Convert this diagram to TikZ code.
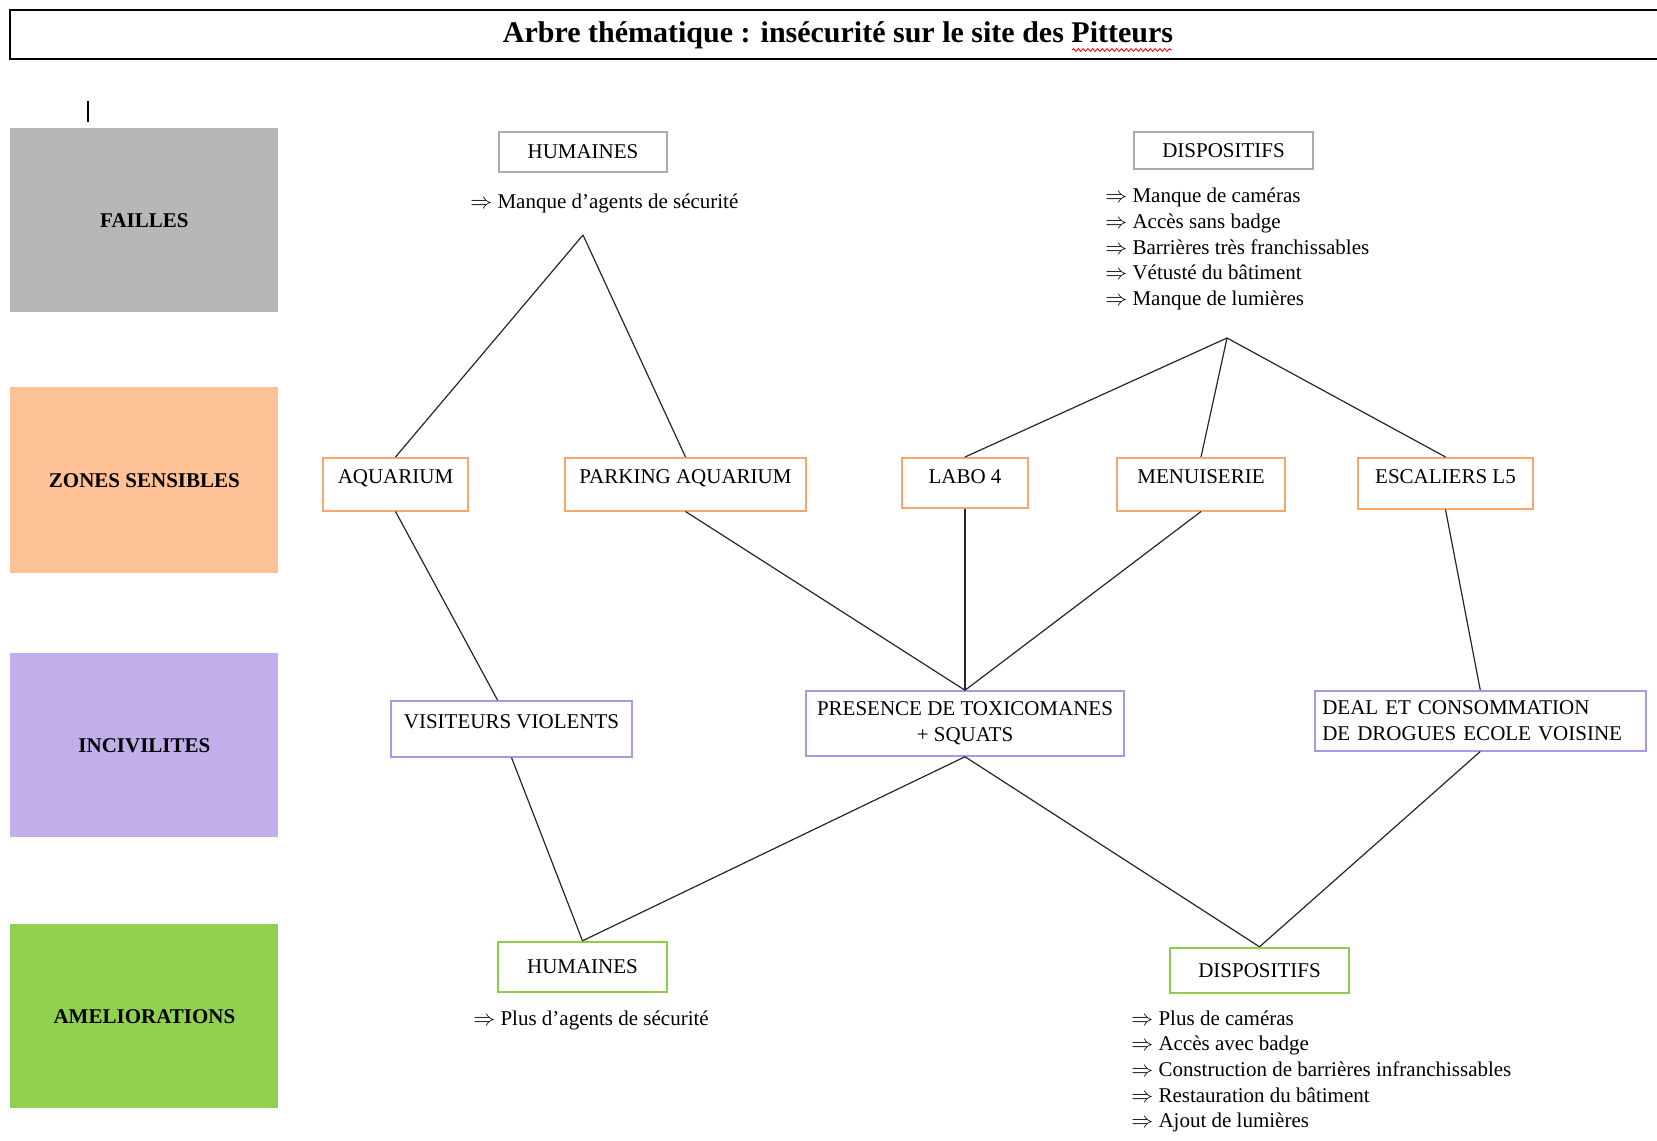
\documentclass[tikz,border=0pt]{standalone}
\usepackage{fontspec}
\setmainfont{Liberation Serif}
\usepackage{tikz}
\usetikzlibrary{decorations.pathmorphing}

\definecolor{failfill}{RGB}{183,183,183}
\definecolor{zonefill}{RGB}{255,193,150}
\definecolor{incfill}{RGB}{193,174,234}
\definecolor{amelfill}{RGB}{146,208,80}
\definecolor{failline}{RGB}{170,170,170}
\definecolor{zoneline}{RGB}{248,166,108}
\definecolor{incline}{RGB}{172,150,232}
\definecolor{amelline}{RGB}{140,206,74}

\begin{document}
\begin{tikzpicture}[
    x=0.5pt, y=-0.5pt,
    every node/.style={font=\fontsize{10.5}{12.8}\selectfont},
    cat/.style={rectangle, anchor=north west, minimum width=134pt, minimum height=92pt, inner sep=0pt, font=\fontsize{10.5}{12.8}\selectfont\bfseries},
    faille/.style={rectangle, draw=failline, line width=0.75pt, minimum height=20pt, inner sep=0pt},
    zone/.style={rectangle, draw=zoneline, line width=0.75pt, anchor=north, inner xsep=0pt, inner ysep=0pt, text height=13pt, text depth=13.5pt},
    incivil/.style={rectangle, draw=incline, line width=0.75pt, inner ysep=0pt},
    amelio/.style={rectangle, draw=amelline, line width=1.2pt, inner sep=0pt},
    list/.style={anchor=west, align=left, inner sep=0pt},
    every edge/.style={draw, line width=0.6pt, black!85}
]
    \useasboundingbox (0,0) rectangle (1657,1140);

    \draw[line width=1pt] (10,10) rectangle (1670,59);
    \node[font=\fontsize{15}{18}\selectfont\bfseries] (title) at (838,35) {Arbre thématique : insécurité sur le site des Pitteurs};
    \draw[red, line width=0.4pt, decorate, decoration={snake, amplitude=0.7pt, segment length=2.4pt}] (1072,50) -- (1172,50);
    \draw[line width=1pt] (88,101) -- (88,122);

    \node[cat, fill=failfill] (failles) at (10,128) {FAILLES};
    \node[cat, fill=zonefill, minimum height=93pt] (zones) at (10,387) {ZONES SENSIBLES};
    \node[cat, fill=incfill] (incivilites) at (10,653) {INCIVILITES};
    \node[cat, fill=amelfill] (ameliorations) at (10,924) {AMELIORATIONS};

    \node[faille, minimum width=84pt] (hFaille) at (583,152) {HUMAINES};
    \node[list] (hManque) at (470,203) {$\Rightarrow$ Manque d’agents de sécurité};
    \coordinate (hApex) at (583,235);

    \node[faille, minimum width=89.5pt, minimum height=18.5pt] (dFaille) at (1223.5,150.5) {DISPOSITIFS};
    \node[list] (dManque) at (1105,249) {$\Rightarrow$ Manque de caméras\\$\Rightarrow$ Accès sans badge\\$\Rightarrow$ Barrières très franchissables\\$\Rightarrow$ Vétusté du bâtiment\\$\Rightarrow$ Manque de lumières};
    \coordinate (dApex) at (1227,338);

    \node[zone, minimum width=72.5pt] (aquarium) at (395.5,457) {AQUARIUM};
    \node[zone, minimum width=120.5pt] (parking) at (685.5,457) {PARKING AQUARIUM};
    \node[zone, minimum width=63pt, text depth=12pt] (labo) at (965,457) {LABO 4};
    \node[zone, minimum width=84pt] (menuiserie) at (1201,457) {MENUISERIE};
    \node[zone, minimum width=87.5pt, text depth=12.5pt] (escaliers) at (1445.5,457) {ESCALIERS L5};

    \node[incivil, anchor=north, minimum width=120.5pt, text height=14pt, text depth=14pt] (visiteurs) at (511.5,700) {VISITEURS VIOLENTS};
    \node[incivil, minimum width=159pt, minimum height=32.5pt, align=center] (presence) at (965,723.5) {PRESENCE DE TOXICOMANES\\+ SQUATS};
    \node[incivil, anchor=north west, inner xsep=3.75pt, text width=158pt, minimum height=30pt, align=left] (deal) at (1314,690) {DEAL ET CONSOMMATION\\DE DROGUES ECOLE VOISINE};

    \node[amelio, minimum width=84.5pt, minimum height=25pt] (hAmel) at (582.5,967) {HUMAINES};
    \node[list] (hPlus) at (473,1020) {$\Rightarrow$ Plus d’agents de sécurité};
    \node[amelio, minimum width=89.5pt, minimum height=22.5pt] (dAmel) at (1259.5,970.5) {DISPOSITIFS};
    \node[list] (dPlus) at (1131,1071.5) {$\Rightarrow$ Plus de caméras\\$\Rightarrow$ Accès avec badge\\$\Rightarrow$ Construction de barrières infranchissables\\$\Rightarrow$ Restauration du bâtiment\\$\Rightarrow$ Ajout de lumières};

    \path (hApex) edge (aquarium.north) edge (parking.north);
    \path (dApex) edge (labo.north) edge (menuiserie.north) edge (escaliers.north);
    \path (aquarium.south) edge ([xshift=-7pt]visiteurs.north);
    \path (parking.south) edge (presence.north);
    \path (labo.south) edge (presence.north);
    \path (menuiserie.south) edge (presence.north);
    \path (escaliers.south) edge (deal.north);
    \path (visiteurs.south) edge (hAmel.north);
    \path (presence.south) edge (hAmel.north) edge (dAmel.north);
    \path (deal.south) edge (dAmel.north);
\end{tikzpicture}
\end{document}
